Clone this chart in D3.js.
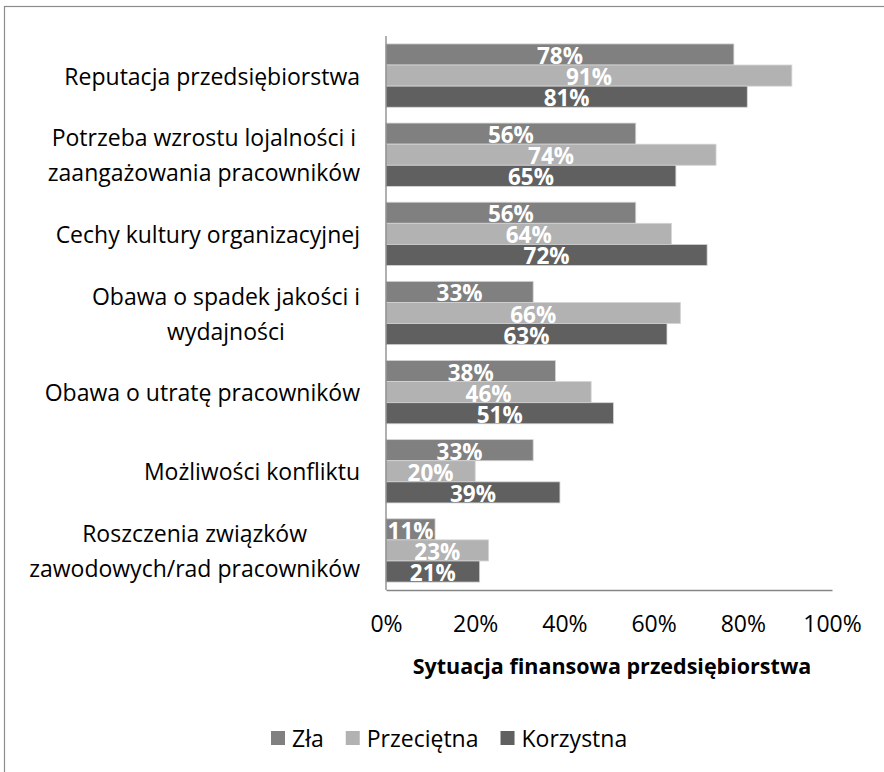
<!DOCTYPE html>
<html>
<head>
<meta charset="utf-8">
<script src="https://cdn.jsdelivr.net/npm/d3@7"></script>
<style>
  html, body { margin: 0; padding: 0; background: #fff; }
  svg { display: block; font-family: "Open Sans", sans-serif; }
</style>
</head>
<body>
<svg id="chart" width="884" height="772"></svg>
<script>
const categories = [
  ["Reputacja przedsiębiorstwa"],
  ["Potrzeba wzrostu lojalności i", "zaangażowania pracowników"],
  ["Cechy kultury organizacyjnej"],
  ["Obawa o spadek jakości i", "wydajności"],
  ["Obawa o utratę pracowników"],
  ["Możliwości konfliktu"],
  ["Roszczenia związków", "zawodowych/rad pracowników"]
];
const seriesNames = ["Zła", "Przeciętna", "Korzystna"];
const zla        = [78, 56, 56, 33, 38, 33, 11];
const przecietna = [91, 74, 64, 66, 46, 20, 23];
const korzystna  = [81, 65, 72, 63, 51, 39, 21];
const seriesColors = ["#808080", "#b2b2b2", "#606060"];
const xTicks = [0, 20, 40, 60, 80, 100];
const axisTitle = "Sytuacja finansowa przedsiębiorstwa";

const seriesValues = [zla, przecietna, korzystna];
const svg = d3.select("#chart");

// outer border
svg.append("rect").attr("x", 4.5).attr("y", 6.5).attr("width", 920).attr("height", 820)
  .attr("fill", "#fff").attr("stroke", "#8c8c8c").attr("stroke-width", 1.2);

const pLeft = 386, pRight = 832, pTop = 36, pBottom = 590;
const x = d3.scaleLinear().domain([0, 100]).range([pLeft, pRight]);
const y = d3.scaleBand().domain(d3.range(categories.length)).range([pTop, pBottom]).paddingInner(0.2).paddingOuter(0.1);
const ys = d3.scaleBand().domain(d3.range(seriesNames.length)).range([0, y.bandwidth()]);

const data = [];
categories.forEach((c, i) => seriesValues.forEach((vals, s) => data.push({ i, s, v: vals[i] })));

const g = svg.append("g");
g.selectAll("rect.bar").data(data).enter().append("rect")
  .attr("class", "bar")
  .attr("x", x(0))
  .attr("y", d => y(d.i) + ys(d.s))
  .attr("width", d => x(d.v) - x(0))
  .attr("height", ys.bandwidth())
  .attr("fill", d => seriesColors[d.s])
  .attr("stroke", "#d4d4d4").attr("stroke-width", 0.8);

g.selectAll("text.lbl").data(data).enter().append("text")
  .attr("class", "lbl")
  .attr("x", d => (x(0) + x(d.v)) / 2)
  .attr("y", d => y(d.i) + ys(d.s) + ys.bandwidth() / 2 + 1)
  .attr("dominant-baseline", "central")
  .attr("text-anchor", "middle")
  .attr("font-weight", "bold").attr("font-size", 22.5)
  .attr("fill", "#fff")
  .text(d => d.v + "%");

// axes
const xAxis = d3.axisBottom(x).tickValues(xTicks).tickFormat(d => d + "%").tickSize(0).tickPadding(26);
const xg = svg.append("g").attr("transform", `translate(0,${pBottom})`).call(xAxis);
xg.select(".domain").attr("stroke", "#868686").attr("stroke-width", 1.3);
xg.selectAll("text").attr("font-size", 23).attr("fill", "#000").attr("font-family", "Open Sans, sans-serif");

svg.append("line").attr("x1", pLeft).attr("x2", pLeft).attr("y1", pTop).attr("y2", pBottom)
  .attr("stroke", "#868686").attr("stroke-width", 1.3);

// category labels (centered lines, right-aligned block)
const catRight = 360, lineH = 35;
categories.forEach((lines, i) => {
  const cy = y(i) + y.bandwidth() / 2;
  const grp = svg.append("g");
  const texts = lines.map((ln, k) => grp.append("text")
    .attr("font-size", 23).attr("fill", "#000")
    .attr("text-anchor", "middle")
    .attr("dominant-baseline", "central")
    .attr("y", cy + (k - (lines.length - 1) / 2) * lineH)
    .text(ln));
  const maxW = d3.max(texts, t => t.node().getComputedTextLength());
  texts.forEach(t => t.attr("x", catRight - maxW / 2));
});

// axis title
svg.append("text").attr("x", 612).attr("y", 665).attr("text-anchor", "middle")
  .attr("dominant-baseline", "central")
  .attr("font-weight", "bold").attr("font-size", 21.5).attr("fill", "#000")
  .text(axisTitle);

// legend
const legend = svg.append("g");
let lx = 271;
seriesNames.forEach((n, s) => {
  legend.append("rect").attr("x", lx).attr("y", 731).attr("width", 14).attr("height", 14)
    .attr("fill", seriesColors[s]);
  const t = legend.append("text").attr("x", lx + 21).attr("y", 738)
    .attr("dominant-baseline", "central").attr("font-size", 23).attr("fill", "#000").text(n);
  lx += 21 + t.node().getComputedTextLength() + 22;
});
</script>
</body>
</html>
